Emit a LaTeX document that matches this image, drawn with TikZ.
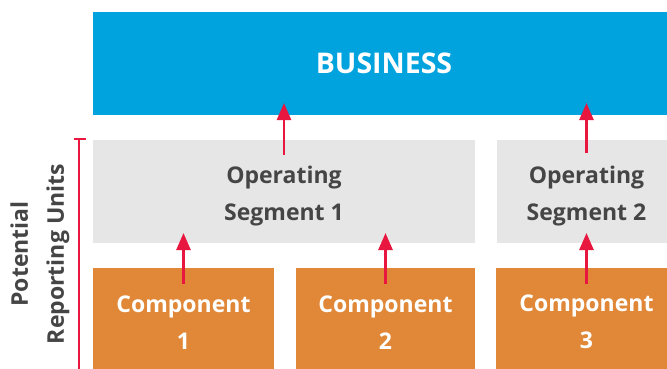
\documentclass[tikz,border=0pt]{standalone}
\usepackage{fontspec}
\usepackage{xcolor}
\usepackage{tikz}
\usetikzlibrary{arrows.meta}
\setmainfont{Open Sans}

\definecolor{bizblue}{HTML}{00A3DD}
\definecolor{seggray}{HTML}{E6E6E6}
\definecolor{comporange}{HTML}{E08838}
\definecolor{linkred}{HTML}{E8173F}
\definecolor{labelgray}{HTML}{454545}

\newcommand{\twolines}[3]{\rule{0pt}{#1}#2\\#3} % first line pushed down a little

\begin{document}
\begin{tikzpicture}[
      x=1pt, y=-1pt,
      box/.style={anchor=north west, inner sep=0pt, outer sep=0pt, align=center, font=\bfseries\fontsize{23}{37}\selectfont},  % common look of all boxes
      bizbox/.style={box, fill=bizblue, text=white, minimum width=582pt, minimum height=103pt, font=\bfseries\fontsize{28.5}{37}\selectfont},
      segbox/.style={box, fill=seggray, text=labelgray, minimum height=103pt},
      compbox/.style={box, fill=comporange, text=white, minimum width=181pt, minimum height=104pt},
      uparrow/.style={draw=linkred, line width=2.6pt, -{Triangle[width=14pt,length=17pt]}}  % red links between levels
    ]
    \clip (0,0) rectangle (667,368);
    % top level
    \node[bizbox] (biz) at (93,12) {BUSINESS};
    % operating segments
    \node[segbox, minimum width=382pt] (seg1) at (93,140) {\twolines{27pt}{Operating}{Segment 1}};
    \node[segbox, minimum width=179pt] (seg2) at (497,140) {\twolines{27pt}{Operating}{Segment 2}};
    % components
    \node[compbox] (comp1) at (93,268) {\twolines{21pt}{Component}{1}};
    \node[compbox, minimum width=179pt] (comp2) at (296,268) {\twolines{21pt}{Component}{2}};
    \node[compbox] (comp3) at (496,268) {\twolines{21pt}{Component}{3}};
    % links
    \draw[uparrow] ([yshift=-15pt]seg1.north) -- ([yshift=12pt]biz.south -| seg1.north);
    \draw[uparrow] ([yshift=-13pt]seg2.north) -- ([yshift=12pt]biz.south -| seg2.north);
    \draw[uparrow] ([yshift=-16pt]comp1.north) -- ([yshift=10pt]seg1.south -| comp1.north);
    \draw[uparrow] ([yshift=-16pt]comp2.north) -- ([yshift=10pt]seg1.south -| comp2.north);
    \draw[uparrow] ([yshift=-16pt]comp3.north) -- ([yshift=10pt]seg2.south -| comp3.north);
    % side label
    \draw[linkred, line width=2pt] (74,139) -- (86,139) (79,139) -- (79,370);
    \node[rotate=90, align=center, text=labelgray, font=\bfseries\fontsize{23}{36}\selectfont] (units) at (40,254) {Potential\\Reporting Units};
\end{tikzpicture}
\end{document}
